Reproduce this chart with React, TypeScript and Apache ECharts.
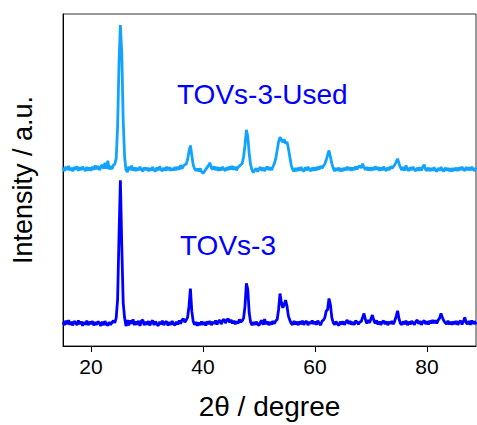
import React, { useEffect, useRef } from "react";
import * as echarts from "echarts";

// 2θ grid: first angle and step of the scans (degrees)
const START_2THETA = 15;
const STEP_2THETA = 0.25;
const X_TICKS = [20, 40, 60, 80];

// TOVs-3 intensities (offset, a.u.), one value per 0.25° from 15°
const tovs3: number[] = [
  7.2, 6.3, 7.6, 6.6, 7.8, 6.4, 7.3, 6.2, 7.5, 7.0, 6.3, 7.7, 6.6, 7.4, 6.1, 7.2, 6.5, 7.6, 6.3, 7.3,
  6.6, 7.5, 6.2, 7.2, 6.4, 7.4, 6.9, 6.1, 7.3, 6.3, 7.5, 6.5, 6.2, 7.2, 6.4, 7.1, 7.6, 7.0, 8.5, 14.0,
  33.0, 49.9, 30.0, 13.0, 8.5, 6.0, 7.8, 6.2, 7.7, 6.7, 8.0, 6.3, 7.4, 6.4, 7.6, 6.1, 7.5, 7.9, 6.3, 7.3,
  6.4, 7.5, 6.2, 7.2, 7.7, 6.3, 7.4, 6.6, 6.1, 7.3, 6.5, 7.6, 6.3, 7.1, 7.4, 6.2, 7.2, 6.4, 7.5, 6.6,
  6.3, 7.3, 6.5, 7.7, 6.7, 7.8, 8.2, 7.2, 7.8, 8.6, 12.0, 17.3, 10.5, 7.4, 6.4, 7.2, 6.1, 7.1, 6.3, 7.4,
  6.4, 7.2, 6.2, 7.4, 6.6, 7.5, 6.3, 7.3, 6.7, 7.7, 6.5, 7.4, 7.8, 6.6, 7.6, 8.1, 6.9, 7.8, 8.2, 7.1,
  7.9, 6.8, 7.6, 6.6, 7.4, 6.8, 8.0, 7.2, 7.6, 8.4, 12.0, 18.9, 17.0, 10.0, 7.2, 6.3, 7.2, 6.4, 7.3, 6.5,
  6.2, 7.2, 7.7, 6.4, 8.1, 6.6, 7.4, 6.3, 7.2, 6.5, 7.5, 6.7, 7.6, 8.0, 11.0, 15.8, 13.0, 11.5, 12.5, 13.8,
  12.0, 9.0, 7.8, 6.8, 6.4, 7.5, 6.5, 7.3, 6.3, 7.4, 6.6, 7.6, 6.4, 7.2, 7.5, 6.3, 7.3, 6.7, 7.7, 6.6,
  7.4, 6.4, 7.6, 6.8, 6.3, 7.5, 7.8, 8.5, 10.5, 11.0, 14.3, 12.5, 8.6, 7.0, 6.4, 7.4, 6.6, 6.2, 7.3, 6.5,
  7.4, 6.4, 7.2, 7.8, 6.7, 7.5, 6.5, 7.2, 6.4, 7.6, 7.2, 6.6, 7.2, 7.4, 8.6, 9.8, 8.0, 6.8, 7.8, 7.0,
  8.2, 9.3, 7.8, 6.8, 7.7, 6.5, 7.4, 6.4, 7.2, 7.6, 6.6, 7.4, 6.3, 7.3, 6.7, 7.5, 6.6, 7.6, 9.0, 10.6,
  8.2, 6.8, 6.4, 7.4, 6.6, 7.6, 6.3, 7.3, 6.5, 7.5, 7.0, 6.4, 7.4, 7.8, 6.7, 7.5, 6.4, 7.2, 7.7, 6.6,
  7.4, 6.5, 7.6, 6.8, 7.8, 6.9, 7.7, 6.8, 7.8, 8.4, 9.8, 8.6, 7.6, 7.0, 6.6, 7.6, 6.5, 7.3, 6.4, 7.4,
  6.6, 7.5, 6.4, 7.2, 7.6, 6.5, 7.4, 8.6, 7.0, 6.6, 7.5, 6.4, 7.7, 6.7, 7.4, 6.5,
];

// TOVs-3-Used intensities (offset, a.u.), one value per 0.25° from 15°
const tovs3Used: number[] = [
  53.8, 52.7, 54.0, 53.0, 54.2, 52.9, 53.7, 52.6, 53.9, 53.1, 54.1, 52.8, 53.8, 53.0, 54.0, 53.4, 52.7, 53.9, 52.9, 53.7,
  52.8, 54.0, 53.1, 54.4, 53.3, 54.2, 53.0, 53.9, 54.6, 53.4, 55.2, 53.4, 55.8, 53.2, 54.2, 53.3, 54.5, 54.8, 56.5, 66.0,
  85.0, 96.7, 88.0, 68.0, 57.0, 53.0, 52.4, 54.0, 53.0, 54.3, 52.8, 53.8, 52.7, 53.7, 52.9, 54.0, 53.1, 52.6, 53.8, 53.0,
  53.7, 52.7, 53.6, 52.8, 53.9, 53.0, 52.6, 53.8, 52.9, 54.1, 53.1, 52.7, 53.7, 52.8, 54.0, 53.0, 53.8, 52.8, 53.6, 52.9,
  53.9, 53.0, 54.0, 53.1, 54.5, 53.4, 54.2, 54.6, 54.8, 56.2, 58.6, 60.4, 57.5, 54.5, 53.4, 52.8, 53.4, 52.6, 53.5, 52.5,
  52.0, 52.5, 53.2, 53.8, 54.4, 55.2, 53.6, 53.2, 54.1, 53.0, 53.9, 52.8, 53.7, 52.9, 54.0, 53.1, 52.8, 53.8, 53.0, 54.1,
  53.2, 54.2, 53.1, 54.0, 52.9, 53.9, 54.2, 54.6, 55.0, 57.0, 60.5, 65.1, 63.0, 58.0, 54.6, 53.0, 52.2, 53.0, 53.5, 52.5,
  53.4, 53.8, 52.8, 53.7, 52.7, 53.6, 54.0, 53.0, 53.8, 53.0, 54.0, 55.0, 56.5, 59.0, 61.5, 62.9, 62.0, 61.4, 62.2, 61.0,
  61.5, 59.5, 57.0, 54.5, 53.2, 52.6, 53.6, 52.7, 53.7, 52.8, 53.9, 53.0, 52.6, 53.8, 52.9, 54.0, 53.1, 52.7, 53.7, 52.8,
  53.8, 52.9, 54.0, 53.2, 54.2, 53.5, 54.2, 54.8, 56.0, 57.5, 58.9, 57.0, 55.0, 53.6, 52.7, 53.6, 52.8, 53.7, 52.6, 53.5,
  52.7, 53.7, 52.9, 54.0, 53.0, 53.8, 52.8, 53.7, 53.0, 54.1, 53.2, 54.0, 54.2, 53.6, 54.9, 53.8, 53.1, 53.9, 52.9, 53.7,
  52.8, 53.8, 53.0, 54.1, 53.1, 53.9, 52.8, 53.7, 52.9, 54.0, 53.2, 52.8, 53.8, 53.0, 54.1, 53.5, 54.0, 54.6, 55.5, 56.4,
  55.0, 53.8, 53.0, 53.9, 52.8, 54.4, 53.2, 52.8, 53.8, 53.0, 54.0, 53.1, 52.7, 53.7, 52.8, 53.8, 52.9, 53.9, 54.6, 53.1,
  52.8, 53.7, 52.7, 53.6, 52.8, 53.8, 52.9, 52.6, 53.6, 52.8, 53.9, 53.0, 52.6, 53.7, 52.8, 53.6, 52.7, 53.5, 52.6, 53.6,
  52.8, 53.7, 52.7, 53.8, 53.0, 54.0, 53.1, 52.8, 53.9, 53.0, 53.8, 52.9, 54.0, 53.1, 52.8, 53.7,
];

const SERIES_NAMES = ["TOVs-3", "TOVs-3-Used"];
const X_NAME = "2θ / degree";
const Y_NAME = "Intensity / a.u.";

const FONT = "'Liberation Sans', Arial, Helvetica, sans-serif";

function toPairs(vals: number[]): [number, number][] {
  return vals.map((v, i) => [START_2THETA + i * STEP_2THETA, v]);
}

export default function App() {
  const ref = useRef<HTMLDivElement>(null);

  useEffect(() => {
    if (!ref.current) return;
    const chart = echarts.init(ref.current, undefined, { renderer: "svg" });
    const xMax = START_2THETA + (tovs3.length - 1) * STEP_2THETA;
    chart.setOption({
      animation: false,
      textStyle: { fontFamily: FONT },
      grid: {
        left: 63,
        right: 1,
        top: 14,
        bottom: 76,
        show: true,
        borderColor: "#333",
        borderWidth: 1,
        backgroundColor: "transparent",
      },
      xAxis: {
        type: "value",
        min: START_2THETA,
        max: xMax,
        name: X_NAME,
        nameLocation: "middle",
        nameGap: 46,
        nameTextStyle: { fontSize: 28, color: "#000", fontFamily: FONT },
        axisLine: { show: true, onZero: false, lineStyle: { color: "#000", width: 1 } },
        axisTick: { show: true, length: 6, customValues: X_TICKS, lineStyle: { color: "#000" } },
        axisLabel: { show: true, fontSize: 21, color: "#000", margin: 10, customValues: X_TICKS, fontFamily: FONT },
        splitLine: { show: false },
      },
      yAxis: {
        type: "value",
        min: 0,
        max: 100,
        name: Y_NAME,
        nameLocation: "middle",
        nameRotate: 90,
        nameGap: 27,
        nameTextStyle: { fontSize: 27, color: "#000", fontFamily: FONT },
        axisLine: { show: true, lineStyle: { color: "#000", width: 1 } },
        axisTick: { show: false },
        axisLabel: { show: false },
        splitLine: { show: false },
      },
      series: [
        {
          name: SERIES_NAMES[0],
          type: "line",
          data: toPairs(tovs3),
          showSymbol: false,
          lineStyle: { color: "#0000FF", width: 2.8 },
          itemStyle: { color: "#0000FF" },
        },
        {
          name: SERIES_NAMES[1],
          type: "line",
          data: toPairs(tovs3Used),
          showSymbol: false,
          lineStyle: { color: "#12A3FF", width: 2.8 },
          itemStyle: { color: "#12A3FF" },
        },
      ],
      graphic: [
        {
          type: "text",
          left: 177,
          top: 80,
          style: { text: SERIES_NAMES[1], fontSize: 28, fill: "#0000FF", fontFamily: FONT },
        },
        {
          type: "text",
          left: 180,
          top: 231,
          style: { text: SERIES_NAMES[0], fontSize: 28, fill: "#0000FF", fontFamily: FONT },
        },
      ],
    });
    return () => chart.dispose();
  }, []);

  return <div ref={ref} style={{ width: 477, height: 425, position: "absolute", left: 0, top: 0 }} />;
}
